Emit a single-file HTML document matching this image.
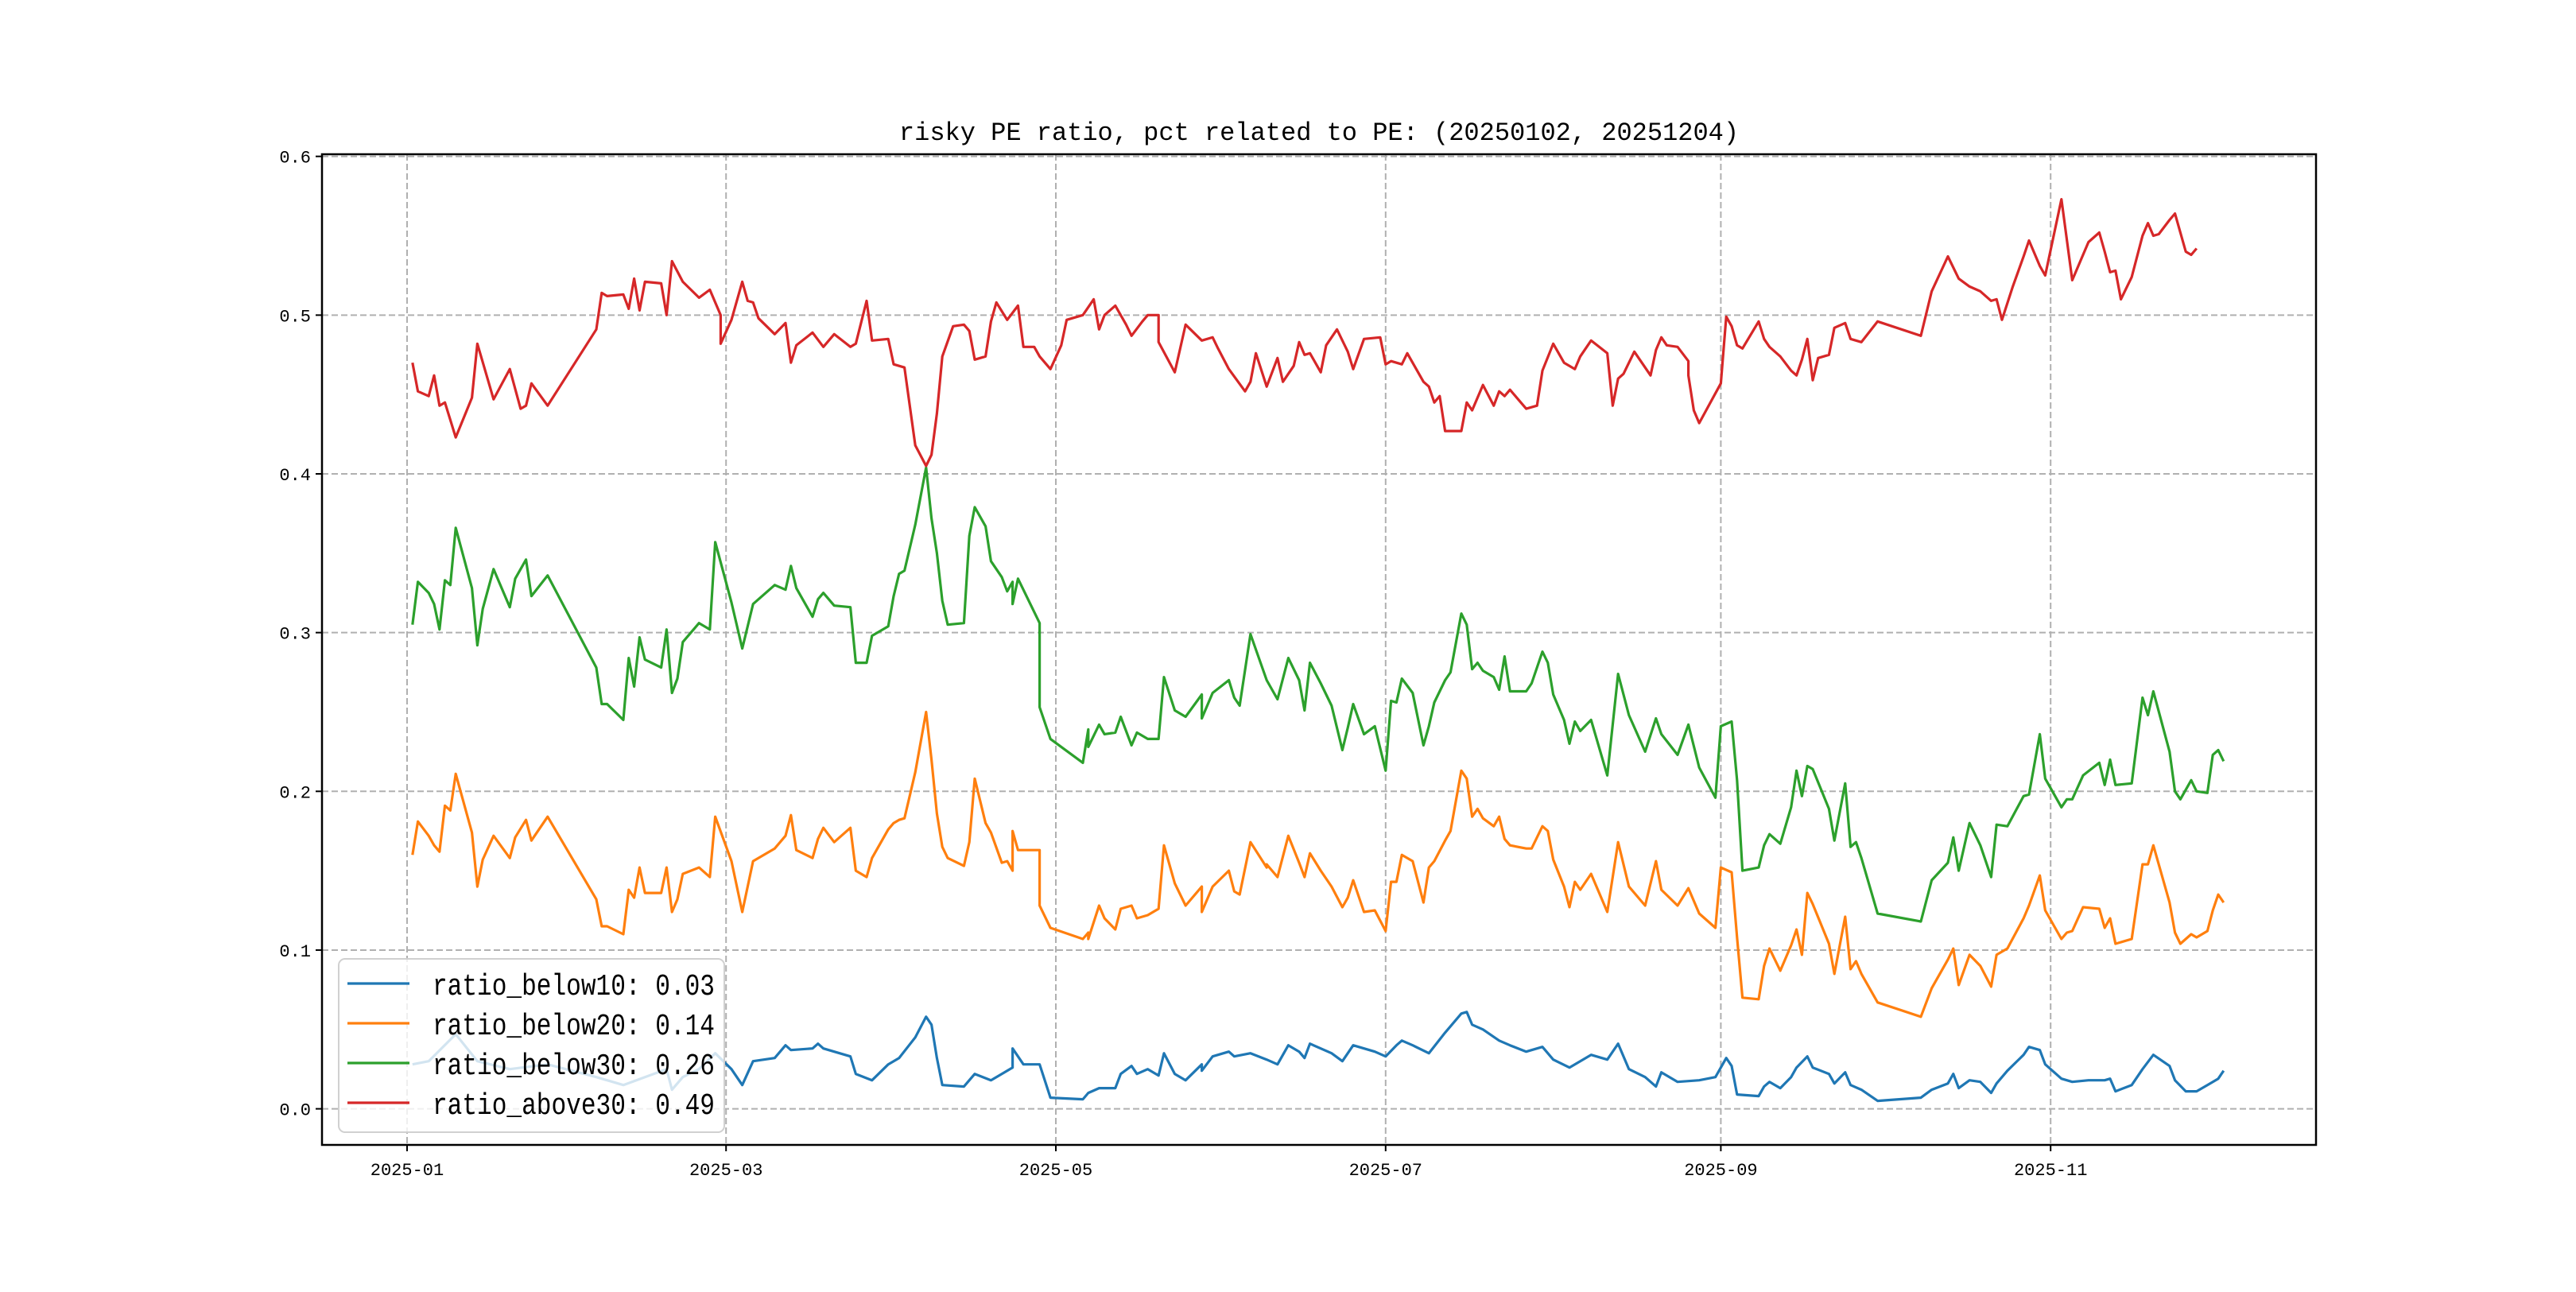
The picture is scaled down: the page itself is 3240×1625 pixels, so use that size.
<!DOCTYPE html>
<html><head><meta charset="utf-8"><style>
html,body{margin:0;padding:0;background:#fff;}
svg text{font-family:"Liberation Mono","Noto Sans CJK SC",monospace;}
</style></head><body>
<svg id="chart" width="3240" height="1620" xmlns="http://www.w3.org/2000/svg">
<rect width="3240" height="1620" fill="#fff"/>
<text x="1659" y="176" font-size="32" text-anchor="middle">risky PE ratio, pct related to PE: (20250102, 20251204)</text>
<g id="grid"></g>
<g id="series"></g>
<rect x="405" y="194" width="2508" height="1246" fill="none" stroke="#000" stroke-width="2.5"/>
<g id="axes"></g>
<g id="legend"></g>
</svg>
<script>
const yTicks = [0.0, 0.1, 0.2, 0.3, 0.4, 0.5, 0.6];
const yTickLabels = ["0.0","0.1","0.2","0.3","0.4","0.5","0.6"];
const xTickDays = [0, 59, 120, 181, 243, 304];
const xTickLabels = ["2025-01","2025-03","2025-05","2025-07","2025-09","2025-11"];
const seriesNames = ["ratio_below10: 0.03","ratio_below20: 0.14","ratio_below30: 0.26","ratio_above30: 0.49"];
const seriesColors = ["#1f77b4","#ff7f0e","#2ca02c","#d62728"];

const blueDays = [1,4,9,13,19,26,35,40,48,49,51,54,57,60,62,64,68,70,71,75,76,77,82,83,86,89,91,94,96,97,98,99,103,105,108,110,112,112,114,117,119,125,126,128,131,132,134,135,137,139,140,142,144,147,147,149,152,153,156,159,161,163,165,166,167,171,173,175,179,181,183,184,186,189,192,195,196,197,199,202,204,207,210,212,215,217,219,222,224,226,229,231,232,235,239,242,244,245,246,250,251,252,254,256,257,259,260,263,264,266,267,269,272,280,282,285,286,287,289,291,293,294,296,299,300,302,303,306,308,311,314,315,316,319,321,323,326,327,329,331,333,335,336];
const blueVals = [0.028,0.030,0.047,0.030,0.025,0.028,0.020,0.015,0.025,0.012,0.020,0.025,0.035,0.025,0.015,0.030,0.032,0.040,0.037,0.038,0.041,0.038,0.033,0.022,0.018,0.028,0.032,0.045,0.058,0.053,0.032,0.015,0.014,0.022,0.018,0.022,0.026,0.038,0.028,0.028,0.007,0.006,0.010,0.013,0.013,0.022,0.027,0.022,0.025,0.021,0.035,0.022,0.018,0.028,0.024,0.033,0.036,0.033,0.035,0.031,0.028,0.040,0.036,0.032,0.041,0.035,0.030,0.040,0.036,0.033,0.040,0.043,0.040,0.035,0.048,0.060,0.061,0.053,0.050,0.043,0.040,0.036,0.039,0.031,0.026,0.030,0.034,0.031,0.041,0.025,0.020,0.014,0.023,0.017,0.018,0.020,0.032,0.027,0.009,0.008,0.014,0.017,0.013,0.020,0.026,0.033,0.026,0.022,0.016,0.023,0.015,0.012,0.005,0.007,0.012,0.016,0.022,0.013,0.018,0.017,0.010,0.016,0.024,0.034,0.039,0.037,0.028,0.019,0.017,0.018,0.018,0.019,0.011,0.015,0.025,0.034,0.027,0.018,0.011,0.011,0.015,0.019,0.024];

const orangeDays = [1,2,4,5,6,7,8,9,12,13,14,16,19,20,22,23,26,35,36,37,40,41,42,43,44,47,48,49,50,51,54,56,57,60,62,64,68,70,71,72,75,76,77,79,82,83,85,86,89,90,91,92,94,96,97,98,99,100,103,104,105,107,108,110,111,112,112,113,117,117,119,125,126,126,128,129,131,132,134,135,137,139,140,142,144,147,147,149,152,153,154,156,159,159,161,163,165,166,167,169,171,173,174,175,177,179,181,182,183,184,186,188,189,190,192,193,195,196,197,198,199,201,202,203,204,207,208,210,211,212,214,215,216,217,219,222,224,226,229,231,232,235,237,239,242,243,245,246,247,250,251,252,254,256,257,258,259,260,263,264,266,267,268,269,272,280,282,285,286,287,289,291,293,294,296,299,300,302,303,306,307,308,310,313,314,315,316,319,321,322,323,326,327,328,330,331,333,334,335,336];
const orangeVals = [0.160,0.181,0.172,0.166,0.162,0.191,0.188,0.211,0.174,0.140,0.157,0.172,0.158,0.171,0.182,0.169,0.184,0.132,0.115,0.115,0.110,0.138,0.133,0.152,0.136,0.136,0.152,0.124,0.132,0.148,0.152,0.146,0.184,0.156,0.124,0.156,0.164,0.172,0.185,0.163,0.158,0.170,0.177,0.168,0.177,0.150,0.146,0.158,0.176,0.180,0.182,0.183,0.212,0.250,0.220,0.186,0.165,0.158,0.153,0.168,0.208,0.180,0.174,0.155,0.156,0.150,0.175,0.163,0.163,0.128,0.114,0.107,0.111,0.107,0.128,0.120,0.113,0.126,0.128,0.120,0.122,0.126,0.166,0.142,0.128,0.140,0.124,0.140,0.150,0.137,0.135,0.168,0.152,0.154,0.146,0.172,0.155,0.146,0.161,0.150,0.140,0.127,0.133,0.144,0.124,0.125,0.112,0.143,0.143,0.160,0.156,0.130,0.152,0.156,0.169,0.175,0.213,0.208,0.184,0.189,0.183,0.178,0.184,0.170,0.166,0.164,0.164,0.178,0.175,0.157,0.140,0.127,0.143,0.138,0.148,0.124,0.168,0.140,0.128,0.156,0.138,0.128,0.139,0.123,0.114,0.152,0.149,0.108,0.070,0.069,0.090,0.101,0.087,0.103,0.113,0.097,0.136,0.129,0.104,0.085,0.121,0.088,0.093,0.085,0.067,0.058,0.076,0.094,0.101,0.078,0.097,0.090,0.077,0.097,0.101,0.120,0.128,0.147,0.125,0.107,0.111,0.112,0.127,0.126,0.114,0.120,0.104,0.107,0.154,0.154,0.166,0.130,0.111,0.104,0.110,0.108,0.112,0.125,0.135,0.130];

const greenDays = orangeDays;
const greenVals = [0.305,0.332,0.325,0.318,0.302,0.333,0.330,0.366,0.328,0.292,0.315,0.340,0.316,0.334,0.346,0.323,0.336,0.278,0.255,0.255,0.245,0.284,0.266,0.297,0.283,0.278,0.302,0.262,0.271,0.294,0.306,0.302,0.357,0.319,0.290,0.318,0.330,0.327,0.342,0.328,0.310,0.321,0.325,0.317,0.316,0.281,0.281,0.298,0.304,0.323,0.337,0.339,0.368,0.404,0.372,0.350,0.320,0.305,0.306,0.361,0.379,0.367,0.345,0.335,0.326,0.332,0.318,0.334,0.306,0.253,0.233,0.218,0.239,0.228,0.242,0.236,0.237,0.247,0.229,0.237,0.233,0.233,0.272,0.251,0.247,0.261,0.246,0.262,0.270,0.259,0.254,0.299,0.270,0.270,0.258,0.284,0.270,0.251,0.281,0.268,0.254,0.226,0.240,0.255,0.236,0.241,0.213,0.257,0.256,0.271,0.262,0.229,0.241,0.256,0.270,0.275,0.312,0.305,0.277,0.281,0.276,0.272,0.264,0.285,0.263,0.263,0.268,0.288,0.281,0.261,0.245,0.230,0.244,0.238,0.245,0.210,0.274,0.248,0.225,0.246,0.236,0.223,0.242,0.215,0.196,0.241,0.244,0.207,0.150,0.152,0.166,0.173,0.167,0.190,0.213,0.197,0.216,0.214,0.189,0.169,0.205,0.165,0.168,0.158,0.123,0.118,0.144,0.155,0.171,0.150,0.180,0.166,0.146,0.179,0.178,0.197,0.198,0.236,0.208,0.190,0.195,0.195,0.210,0.218,0.204,0.220,0.204,0.205,0.259,0.248,0.263,0.225,0.200,0.195,0.207,0.200,0.199,0.223,0.226,0.219];

const redDays = [1,2,4,5,6,7,9,12,13,16,19,21,22,23,26,35,36,37,40,41,42,43,44,47,48,49,51,54,56,58,58,60,62,63,64,65,68,70,71,72,75,77,79,82,83,85,86,89,90,92,94,96,97,98,99,101,103,104,105,107,108,109,111,113,114,116,117,119,121,122,125,127,128,129,131,133,134,136,137,139,139,142,143,144,147,149,150,152,155,156,157,159,161,162,164,165,166,167,169,170,172,174,175,177,180,181,182,184,185,188,189,190,191,192,195,196,197,199,201,202,203,204,207,209,210,212,214,216,217,219,222,223,224,225,226,227,230,231,232,233,235,237,237,238,239,243,244,245,246,247,250,251,252,254,256,257,258,259,260,261,263,264,266,267,269,272,280,282,285,287,289,291,293,294,295,297,299,300,302,303,306,308,311,313,314,315,316,317,319,321,322,323,324,326,327,329,330,331,333,334,335,336,337];
const redVals = [0.470,0.452,0.449,0.462,0.443,0.445,0.423,0.448,0.482,0.447,0.466,0.441,0.443,0.457,0.443,0.491,0.514,0.512,0.513,0.504,0.523,0.503,0.521,0.520,0.500,0.534,0.521,0.511,0.516,0.500,0.482,0.497,0.521,0.509,0.508,0.498,0.488,0.495,0.470,0.481,0.489,0.480,0.488,0.480,0.482,0.509,0.484,0.485,0.469,0.467,0.418,0.405,0.412,0.438,0.474,0.493,0.494,0.490,0.472,0.474,0.496,0.508,0.497,0.506,0.480,0.480,0.474,0.466,0.481,0.497,0.500,0.510,0.491,0.500,0.506,0.494,0.487,0.496,0.500,0.500,0.483,0.464,0.479,0.494,0.484,0.486,0.479,0.466,0.452,0.458,0.476,0.455,0.473,0.458,0.468,0.483,0.475,0.476,0.464,0.481,0.491,0.477,0.466,0.485,0.486,0.469,0.471,0.469,0.476,0.458,0.455,0.445,0.449,0.427,0.427,0.445,0.440,0.456,0.443,0.452,0.449,0.453,0.441,0.443,0.465,0.482,0.470,0.466,0.474,0.484,0.476,0.443,0.460,0.463,0.470,0.477,0.462,0.478,0.486,0.481,0.480,0.471,0.462,0.440,0.432,0.457,0.499,0.493,0.481,0.479,0.496,0.485,0.480,0.474,0.465,0.462,0.472,0.485,0.459,0.473,0.475,0.492,0.495,0.485,0.483,0.496,0.487,0.515,0.537,0.523,0.518,0.515,0.509,0.510,0.497,0.518,0.537,0.547,0.531,0.525,0.573,0.522,0.546,0.552,0.540,0.527,0.528,0.510,0.524,0.550,0.558,0.550,0.551,0.560,0.564,0.540,0.538,0.542];

const PL = 405, PR = 2913, PT = 194, PB = 1440;
function xScale(d){ return 512 + d * 6.8; }
function yScale(v){ return 1394.6 - v * 1996.5; }
const NS = "http://www.w3.org/2000/svg";
function mk(tag, attrs){ const e = document.createElementNS(NS, tag); for (const k in attrs) e.setAttribute(k, attrs[k]); return e; }

const grid = document.getElementById('grid');
const axes = document.getElementById('axes');
yTicks.forEach((t, i) => {
  const y = yScale(t);
  const gl = mk('line', {x1: PL, x2: PR, y1: y, y2: y, stroke: '#b0b0b0', 'stroke-width': 2, 'stroke-dasharray': '8,4'});
  
  
  grid.appendChild(gl);
  const tk = mk('line', {x1: PL - 8, x2: PL, y1: y, y2: y, stroke: '#000', 'stroke-width': 2});
  
  
  axes.appendChild(tk);
  const tx = mk('text', {x: PL - 14, y: y + 8, 'font-size': 22, 'text-anchor': 'end'});
  tx.textContent = yTickLabels[i];
  
  
  axes.appendChild(tx);
});
xTickDays.forEach((d, i) => {
  const x = xScale(d);
  const gl = mk('line', {x1: x, x2: x, y1: PT, y2: PB, stroke: '#b0b0b0', 'stroke-width': 2, 'stroke-dasharray': '8,4'});
  
  
  grid.appendChild(gl);
  const tk = mk('line', {x1: x, x2: x, y1: PB, y2: PB + 8, stroke: '#000', 'stroke-width': 2});
  
  
  axes.appendChild(tk);
  const tx = mk('text', {x: x, y: PB + 38, 'font-size': 22, 'text-anchor': 'middle'});
  tx.textContent = xTickLabels[i];
  
  
  axes.appendChild(tx);
});

const seriesDays = [blueDays, orangeDays, greenDays, redDays];
const seriesVals = [blueVals, orangeVals, greenVals, redVals];
const seriesKeys = ['series-below10','series-below20','series-below30','series-above30'];
const sg = document.getElementById('series');
seriesVals.forEach((vals, s) => {
  const days = seriesDays[s];
  const pts = vals.map((v, i) => xScale(days[i]).toFixed(1) + ',' + yScale(v).toFixed(1)).join(' ');
  const pl = mk('polyline', {points: pts, fill: 'none', stroke: seriesColors[s], 'stroke-width': 3.2, 'stroke-linejoin': 'round'});
  
  
  sg.appendChild(pl);
});

const lg = document.getElementById('legend');
const box = mk('rect', {x: 426, y: 1206, width: 485, height: 218, rx: 8, fill: 'rgba(255,255,255,0.8)', stroke: '#d0d0d0', 'stroke-width': 2});


lg.appendChild(box);
seriesNames.forEach((n, i) => {
  const y = 1237 + i * 50;
  const ln = mk('line', {x1: 437, x2: 515, y1: y, y2: y, stroke: seriesColors[i], 'stroke-width': 3.2});
  
  
  lg.appendChild(ln);
  const tx = mk('text', {x: 544, y: y + 14, 'font-size': 38, textLength: 355, lengthAdjust: 'spacingAndGlyphs'});
  tx.textContent = n;
  
  
  lg.appendChild(tx);
});
</script>
</body></html>
